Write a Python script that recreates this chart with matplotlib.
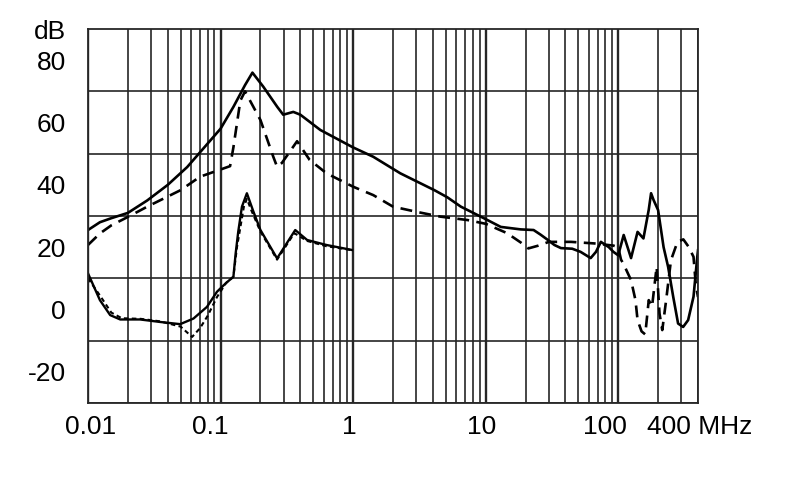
import matplotlib
matplotlib.use("Agg")
import matplotlib.pyplot as plt
from matplotlib.ticker import LogLocator, FixedLocator, NullFormatter
from matplotlib.transforms import ScaledTranslation

plt.rcParams['font.family'] = ['Liberation Sans', 'DejaVu Sans']

# Curve A: solid upper
a_f = [0.01, 0.0123, 0.015, 0.02, 0.028, 0.04, 0.056, 0.079, 0.1, 0.125, 0.153, 0.174,
       0.21, 0.268, 0.297, 0.354, 0.40, 0.566, 1.0, 1.42, 2.27, 3.05, 4.1, 5.14, 6.5, 10,
       13, 18.4, 23, 26, 29.5, 33, 37, 45, 52, 62, 68, 74, 85, 92, 100, 110, 125, 140,
       155, 170, 177, 185, 200, 220, 238, 260, 283, 309, 337, 370, 395, 400]
a_db = [25.5, 28, 29.3, 31, 35, 40, 45.7, 53, 58, 65, 72, 76,
        71.5, 65, 62.5, 63.4, 62.5, 57.6, 52, 49, 43.7, 41, 38.3, 36, 33, 29,
        26.5, 25.7, 25.5, 24, 22.3, 20.7, 19.7, 19.5, 18.5, 16.5, 18.5, 21.7, 20, 18.5, 17.4, 23.9, 16.5, 24.9,
        22.8, 32, 37.3, 35.1, 31.9, 20, 13.7, 4.1, -4.5, -5.6, -3.4, 4.1, 16.9, 19]

# Curve B: dashed upper
b_f = [0.01, 0.0123, 0.015, 0.02, 0.028, 0.05, 0.07, 0.118, 0.125, 0.141, 0.153, 0.2,
       0.25, 0.267, 0.29, 0.378, 0.47, 0.63, 1.0, 1.42, 2.0, 3.04, 4.55, 7.3, 10, 14.5,
       18.4, 21, 25, 30, 44, 66, 92, 100, 105, 110, 125, 135, 140, 150, 160, 170, 180,
       195, 205, 215, 230, 250, 280, 310, 340, 370, 385, 400]
b_db = [20.7, 24.4, 27, 29.7, 33, 38.3, 42.6, 46, 52, 67, 70, 60.8,
        49, 45.8, 47, 54, 48, 43.7, 39.4, 36.7, 33, 31.3, 29.8, 28.7, 27.5, 24.5,
        21.5, 19.6, 20.5, 21.7, 21.7, 21.2, 20.5, 20, 16, 14.5, 9.4, 3, -3.4, -7, -8, 3, 0.9,
        13.7, -1.3, -6.6, 3, 15.8, 21.7, 22.5, 20.1, 16.9, 8, 4]

# Curve C: solid lower
c_f = [0.01, 0.0123, 0.0147, 0.0175, 0.0247, 0.035, 0.0496, 0.0625, 0.079, 0.094, 0.11,
       0.125, 0.13, 0.136, 0.145, 0.158, 0.177, 0.2, 0.267, 0.366, 0.45, 0.63, 0.98]
c_db = [11.6, 3, -1.8, -3.2, -3.2, -4, -4.7, -2.9, 0.85, 5.7, 8.5,
        10.5, 18, 25, 33, 37.3, 31.4, 25.5, 16.4, 25.5, 22.3, 20.7, 19.1]

# Curve D: dotted lower
d_f = [0.01, 0.0123, 0.015, 0.018, 0.025, 0.035, 0.05, 0.061, 0.07, 0.08, 0.094, 0.11,
       0.125, 0.133, 0.15, 0.158, 0.17, 0.2, 0.267, 0.36, 0.45, 0.63, 1.0]
d_db = [10, 4.5, -1, -2.8, -3, -3.8, -5.5, -8.8, -6, -2, 4, 8.5,
        10.5, 20, 33, 35.5, 32, 25, 16, 24.5, 22, 20.3, 19]

x_ticks = [0.01, 0.1, 1, 10, 100]
x_labels = ["0.01", "0.1", "1", "10", "100"]
y_ticks = [-20, 0, 20, 40, 60, 80, 90]
y_labels = ["-20", "0", "20", "40", "60", "80", "dB"]

FS = 19
fig = plt.figure(figsize=(7.9, 4.99), dpi=100)
ax = fig.add_axes([88/790, 1-403/499, 610/790, 374/499])
ax.set_xscale('log')
ax.set_xlim(0.01, 400)
ax.set_ylim(-30, 90)

gcol = '#262626'
ax.xaxis.set_major_locator(FixedLocator(x_ticks))
ax.xaxis.set_minor_locator(LogLocator(base=10, subs=[2, 3, 4, 5, 6, 7, 8, 9], numticks=20))
ax.xaxis.set_minor_formatter(NullFormatter())
ax.set_xticklabels(x_labels)
ax.yaxis.set_major_locator(FixedLocator(y_ticks))
ax.set_yticklabels(y_labels)
ax.yaxis.set_minor_locator(FixedLocator(list(range(-30, 91, 10))))
ax.grid(True, which='major', axis='x', color=gcol, lw=1.7)
ax.grid(True, which='minor', axis='x', color=gcol, lw=1.2)
ax.grid(True, which='minor', axis='y', color=gcol, lw=1.2)
ax.grid(False, which='major', axis='y')
ax.tick_params(axis='both', which='both', length=0, labelsize=FS)
ax.tick_params(axis='x', pad=9)
ax.tick_params(axis='y', pad=16)
for s in ax.spines.values():
    s.set_color(gcol)
    s.set_linewidth(1.3)

# nudge x tick labels like the reference
shifts = [3, -10, -4, -4, -13]
for lab, dx in zip(ax.get_xticklabels(), shifts):
    lab.set_transform(lab.get_transform() + ScaledTranslation(dx/100, 0, fig.dpi_scale_trans))

ax.plot(a_f, a_db, color='black', lw=1.9, solid_joinstyle='round')
ax.plot(b_f, b_db, color='black', lw=1.9, linestyle=(0, (4.5, 2.8)))
ax.plot(c_f, c_db, color='black', lw=1.7)
ax.plot(d_f, d_db, color='black', lw=1.5, linestyle=(0, (2.2, 1.6)))

ax.annotate("400 MHz", xy=(164, 0), xycoords=('data', 'axes fraction'),
            xytext=(0, -9), textcoords='offset points', ha='left', va='top',
            fontsize=FS, annotation_clip=False)

fig.savefig("out.png", dpi=100)
